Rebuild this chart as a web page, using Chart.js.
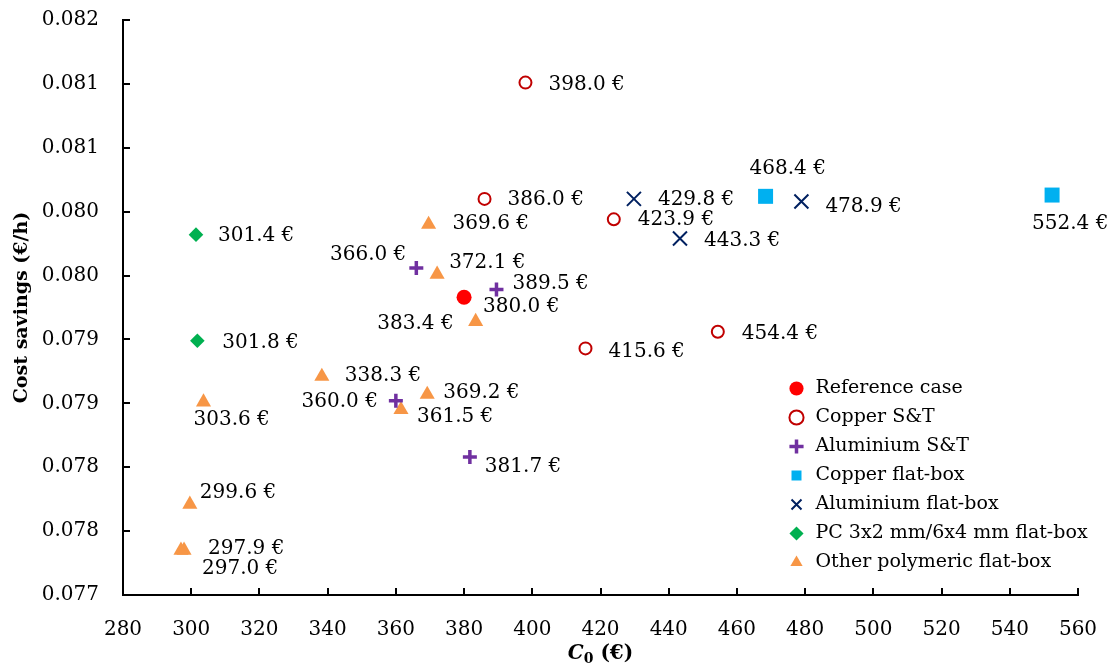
<!DOCTYPE html>
<html>
<head>
<meta charset="utf-8">
<title>Cost savings versus C0</title>
<script src="https://cdn.jsdelivr.net/npm/chart.js@4.4.1/dist/chart.umd.min.js"></script>
<style>
  html, body { margin: 0; padding: 0; background: #ffffff; }
  #wrap { width: 1114px; height: 664px; }
</style>
</head>
<body>
<div id="wrap"><canvas id="chart" width="1114" height="664"></canvas></div>
<script>
// Investment cost C0 (€) and cost savings (€/h) for each heat-exchanger option
const referenceCost = [380.0];
const referenceSavings = [0.07933];

const copperShellTubeCost = [398.0, 386.0, 423.9, 415.6, 454.4];
const copperShellTubeSavings = [0.08101, 0.08010, 0.07994, 0.07893, 0.07906];

const aluShellTubeCost = [366.0, 389.5, 360.0, 381.7];
const aluShellTubeSavings = [0.07956, 0.07939, 0.07852, 0.07808];

const copperFlatBoxCost = [468.4, 552.4];
const copperFlatBoxSavings = [0.08012, 0.08013];

const aluFlatBoxCost = [429.8, 443.3, 478.9];
const aluFlatBoxSavings = [0.08010, 0.07979, 0.08008];

const pcFlatBoxCost = [301.4, 301.8];
const pcFlatBoxSavings = [0.07982, 0.07899];

const polymerFlatBoxCost = [369.6, 372.1, 383.4, 338.3, 369.2, 361.5, 303.6, 299.6, 297.9, 297.0];
const polymerFlatBoxSavings = [0.07990, 0.07951, 0.07914, 0.07871, 0.07857, 0.07845, 0.07851, 0.07771, 0.07735, 0.07735];

const seriesNames = [
  'Reference case', 'Copper S&T', 'Aluminium S&T', 'Copper flat-box',
  'Aluminium flat-box', 'PC 3x2 mm/6x4 mm flat-box', 'Other polymeric flat-box'
];

// Axis tick labels (y labels are rounded to three decimals)
const xTickLabels = ['280', '300', '320', '340', '360', '380', '400', '420', '440', '460', '480', '500', '520', '540', '560'];
const yTickLabels = ['0.077', '0.078', '0.078', '0.079', '0.079', '0.080', '0.080', '0.081', '0.081', '0.082'];

// Where each value label sits next to its marker: [dx, dy, textAlign]
const labelOffsets = [
  [[19, 10, 'left']],
  [[23, 2, 'left'], [23, 1, 'left'], [24, 0, 'left'], [23, 3, 'left'], [24, 2, 'left']],
  [[-10, -13, 'right'], [16, -6, 'left'], [-18, 1, 'right'], [15, 10, 'left']],
  [[-16, -28, 'left'], [-20, 29, 'left']],
  [[24, 1, 'left'], [24, 2, 'left'], [24, 5, 'left']],
  [[22, 1, 'left'], [25, 2, 'left']],
  [[24, -1, 'left'], [12, -11, 'left'], [-22, 2, 'right'], [23, -1, 'left'], [16, -2, 'left'],
   [16, 7, 'left'], [-10, 18, 'left'], [10, -11, 'left'], [24, -1, 'left'], [21, 19, 'left']]
];

const FONT = '"DejaVu Serif", "Liberation Serif", serif';

function pairs(xs, ys) {
  return xs.map((x, i) => ({ x: x, y: ys[i] }));
}

const datasets = [
  { label: seriesNames[0], data: pairs(referenceCost, referenceSavings),
    pointStyle: 'circle', pointRadius: 7.5, backgroundColor: '#FF0000', borderColor: '#FF0000', borderWidth: 0 },
  { label: seriesNames[1], data: pairs(copperShellTubeCost, copperShellTubeSavings),
    pointStyle: 'circle', pointRadius: 6, backgroundColor: 'rgba(255,255,255,0)', borderColor: '#C00000', borderWidth: 2 },
  { label: seriesNames[2], data: pairs(aluShellTubeCost, aluShellTubeSavings),
    pointStyle: 'cross', pointRadius: 7, backgroundColor: '#7030A0', borderColor: '#7030A0', borderWidth: 3.5 },
  { label: seriesNames[3], data: pairs(copperFlatBoxCost, copperFlatBoxSavings),
    pointStyle: 'rect', pointRadius: 10.6, backgroundColor: '#00B0F0', borderColor: '#00B0F0', borderWidth: 0 },
  { label: seriesNames[4], data: pairs(aluFlatBoxCost, aluFlatBoxSavings),
    pointStyle: 'crossRot', pointRadius: 9.9, backgroundColor: '#002060', borderColor: '#002060', borderWidth: 2 },
  { label: seriesNames[5], data: pairs(pcFlatBoxCost, pcFlatBoxSavings),
    pointStyle: 'rectRot', pointRadius: 7.3, backgroundColor: '#00B050', borderColor: '#00B050', borderWidth: 0 },
  { label: seriesNames[6], data: pairs(polymerFlatBoxCost, polymerFlatBoxSavings),
    pointStyle: 'triangle', pointRadius: 8.7, backgroundColor: '#F79646', borderColor: '#F79646', borderWidth: 0 }
];
datasets.forEach(d => { d.pointHoverRadius = d.pointRadius; d.clip = false; });

// Value labels "xxx.x €" beside every marker
const valueLabels = {
  id: 'valueLabels',
  afterDatasetsDraw(chart) {
    const ctx = chart.ctx;
    ctx.save();
    ctx.font = '20px ' + FONT;
    ctx.fillStyle = '#000000';
    ctx.textBaseline = 'middle';
    chart.data.datasets.forEach((ds, di) => {
      const meta = chart.getDatasetMeta(di);
      meta.data.forEach((pt, i) => {
        const off = labelOffsets[di][i];
        ctx.textAlign = off[2];
        ctx.fillText(ds.data[i].x.toFixed(1) + ' €', pt.x + off[0], pt.y + off[1]);
      });
    });
    ctx.restore();
  }
};

// Tick marks pointing into the plot area
const innerTicks = {
  id: 'innerTicks',
  afterDraw(chart) {
    const ctx = chart.ctx;
    const area = chart.chartArea;
    const len = 7;
    ctx.save();
    ctx.strokeStyle = '#000000';
    ctx.lineWidth = 2;
    ctx.beginPath();
    const xs = chart.scales.x;
    xs.ticks.forEach((t, i) => {
      const px = Math.round(xs.getPixelForTick(i));
      ctx.moveTo(px, area.bottom);
      ctx.lineTo(px, area.bottom - len);
    });
    const ys = chart.scales.y;
    ys.ticks.forEach((t, i) => {
      const py = Math.round(ys.getPixelForTick(i));
      ctx.moveTo(area.left, py);
      ctx.lineTo(area.left + len, py);
    });
    ctx.stroke();
    ctx.restore();
  }
};

// x-axis title with italic C and subscript 0
const xAxisTitle = {
  id: 'xAxisTitle',
  afterDraw(chart) {
    const ctx = chart.ctx;
    const area = chart.chartArea;
    const parts = [
      { t: 'C', f: 'italic bold 20px ' + FONT, dy: 0 },
      { t: '0', f: 'bold 14px ' + FONT, dy: 4 },
      { t: ' (€)', f: 'bold 20px ' + FONT, dy: 0 }
    ];
    ctx.save();
    ctx.fillStyle = '#000000';
    ctx.textBaseline = 'alphabetic';
    ctx.textAlign = 'left';
    let total = 0;
    parts.forEach(p => { ctx.font = p.f; p.w = ctx.measureText(p.t).width; total += p.w; });
    let x = (area.left + area.right) / 2 - total / 2;
    const base = 659;
    parts.forEach(p => { ctx.font = p.f; ctx.fillText(p.t, x, base + p.dy); x += p.w; });
    ctx.restore();
  }
};

// Put the legend block in the lower right corner of the plot
const legendPlacement = {
  id: 'legendPlacement',
  afterLayout(chart) {
    const lg = chart.legend;
    if (!lg) return;
    lg.left = 777;
    lg.top = 369;
    lg.right = chart.width;
    lg.bottom = chart.height;
    lg.width = lg.right - lg.left;
    lg.height = lg.bottom - lg.top;
  }
};

Chart.defaults.font.family = FONT;
Chart.defaults.color = '#000000';

new Chart(document.getElementById('chart'), {
  type: 'scatter',
  data: { datasets: datasets },
  options: {
    responsive: false,
    animation: false,
    events: [],
    layout: { padding: { top: 20, right: 36, left: 0, bottom: 0 } },
    plugins: {
      tooltip: { enabled: false },
      legend: {
        position: 'chartArea',
        align: 'start',
        labels: {
          usePointStyle: true,
          boxHeight: 10,
          padding: 10,
          color: '#000000',
          font: { size: 19, family: FONT }
        }
      }
    },
    scales: {
      x: {
        type: 'linear',
        min: 280,
        max: 560,
        afterFit(s) { s.height = 69; s.paddingLeft = 0; s.paddingRight = 0; },
        ticks: {
          stepSize: 20,
          padding: 23,
          maxRotation: 0,
          font: { size: 20, family: FONT },
          color: '#000000',
          callback: (v, i) => xTickLabels[i]
        },
        grid: { display: true, drawOnChartArea: false, drawTicks: false },
        border: { display: true, color: '#000000', width: 2 }
      },
      y: {
        type: 'linear',
        min: 0.077,
        max: 0.0815,
        afterFit(s) { s.width = 123; s.paddingTop = 0; s.paddingBottom = 0; },
        title: {
          display: true,
          text: 'Cost savings (€/h)',
          padding: { top: 11, bottom: 0 },
          font: { size: 19, weight: 'bold', family: FONT },
          color: '#000000'
        },
        ticks: {
          stepSize: 0.0005,
          padding: 24,
          font: { size: 20, family: FONT },
          color: '#000000',
          callback: (v, i) => yTickLabels[i]
        },
        grid: { display: true, drawOnChartArea: false, drawTicks: false },
        border: { display: true, color: '#000000', width: 2 }
      }
    }
  },
  plugins: [legendPlacement, valueLabels, innerTicks, xAxisTitle]
});
</script>
</body>
</html>
